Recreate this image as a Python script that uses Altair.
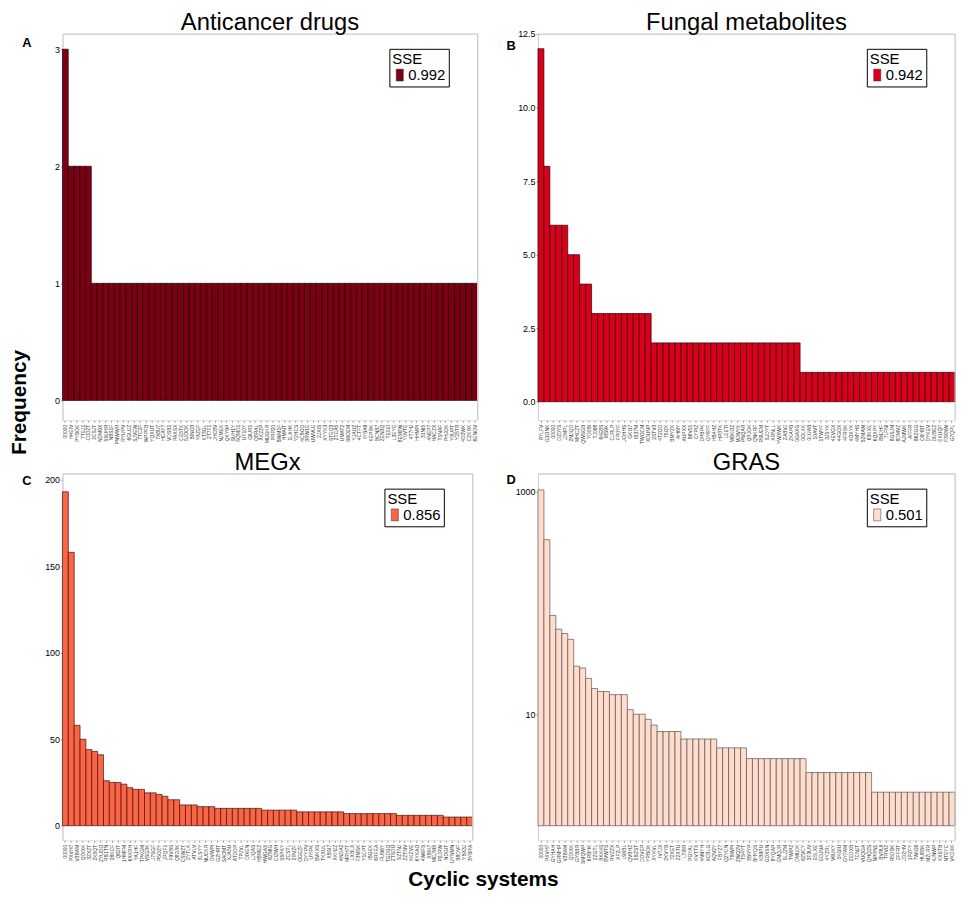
import altair as alt
import pandas as pd

FONT = "Liberation Sans"

panel_titles = ["Anticancer drugs", "Fungal metabolites", "MEGx", "GRAS"]
panel_letters = ["A", "B", "C", "D"]
sse_values = ["0.992", "0.942", "0.856", "0.501"]
bar_colors = ["#7B0014", "#D9001B", "#FC6446", "#FFDCCB"]
bar_strokes = ["#1a0003", "#2a0004", "#3a100a", "#555050"]

codes_a = ["00000", "H4EIV", "PYBOK", "7TEJ1", "C0D2T", "2CSJT", "NDM9X", "5SUHR", "N8S1F", "PNWWR",
           "RYUPV", "6GUJZ", "SJVEW", "7TC2F", "WPPFB", "YQXUT", "7X8U7", "HCAY7", "VDSB1", "PAXSX",
           "CE5TK", "5JOOK", "BINO3", "YAZEF", "KT3GL", "2T7F1", "JHC8V", "NJMEK", "QKY9P", "SUH1Y",
           "5QMD1", "UF10Y", "GIUR1", "Q8RAL", "XK2ZP", "MUGKR", "PRP20", "BWM1F", "HMAIT", "1LAHK",
           "Y2HCS", "4CBOD", "3RW1E", "UWVUJ", "2JXIS", "XYYK3", "STEQ3", "2TCA5", "UMAT2", "S9OEM",
           "YJAUZ", "4CTFT", "IYBA9", "KEPRK", "BCNB7", "ZEN3Q", "TE0EI", "L3EYE", "8EM0W", "Y0VTE",
           "4T7HJ", "HHMPI", "31NI5", "4NEP7", "HACZX", "T1NAF", "PHJOK", "Y0UPT", "Y25TR", "4D2WK",
           "CZKRK", "6ENOV"]
freq_a = [3, 2, 2, 2, 2, 1, 1, 1, 1, 1,
          1, 1, 1, 1, 1, 1, 1, 1, 1, 1,
          1, 1, 1, 1, 1, 1, 1, 1, 1, 1,
          1, 1, 1, 1, 1, 1, 1, 1, 1, 1,
          1, 1, 1, 1, 1, 1, 1, 1, 1, 1,
          1, 1, 1, 1, 1, 1, 1, 1, 1, 1,
          1, 1, 1, 1, 1, 1, 1, 1, 1, 1,
          1, 1]

codes_b = ["RYLFV", "G1ONK", "00000", "DZ0YS", "JJMPL", "2MJQD", "MHCZT", "QWSGB", "YD0BI", "TJ098",
           "64E8S", "I8S9K", "CJRLP", "FP0YF", "JOHHS", "GKI17", "IB37M", "TWOCM", "XDUNP", "2STV3",
           "4T2OD", "75IZK", "BMYZK", "AHI9Y", "AUPXX", "B6V01", "CYPIZ", "DPBPK", "GY6YF", "HB4HZ",
           "HP3TK", "LEETI", "MBKOZ", "MJWYK", "PNQAR", "QPJOK", "QNKRF", "RSUEM", "SJDYT", "XRNLL",
           "YWXWK", "ZABVJ", "ZKAPB", "0GAXG", "0OLKK", "0LUAB", "10AVT", "1TWYF", "3JSYK", "4EVGX",
           "44GOX", "4FRSK", "4OXYK", "4MYHS", "52MAW", "63KXE", "6QXPY", "8MJHF", "7LFNI", "8GSJM",
           "8DMVZ", "AJMWK", "AFFIR", "B6ZGG", "C6HBT", "DYKEV", "DUBEZ", "EKUQF", "F3XNW", "G7QPL"]
freq_b = [12, 8, 6, 6, 6, 5, 5, 4, 4, 3,
          3, 3, 3, 3, 3, 3, 3, 3, 3, 2,
          2, 2, 2, 2, 2, 2, 2, 2, 2, 2,
          2, 2, 2, 2, 2, 2, 2, 2, 2, 2,
          2, 2, 2, 2, 1, 1, 1, 1, 1, 1,
          1, 1, 1, 1, 1, 1, 1, 1, 1, 1,
          1, 1, 1, 1, 1, 1, 1, 1, 1, 1]

codes_c = ["00000", "PXVH7", "V3BAM", "QDIXK", "3ZXZT", "2K5QT", "ZYUDO", "RB1TN", "28KCF", "Q62IT",
           "1HMFM", "6XKRH", "YA1HF", "TPKGM", "VSG3K", "J7SGF", "P5OZY", "JPQF1", "F9VBS", "Q8D3K",
           "CSWZT", "2YTLK", "ATVLV", "3LSYY", "NUCKR", "DVWPI", "GZHRT", "SAOMT", "XJA5U", "ATDDP",
           "TPJVL", "DIXEN", "LJQAS", "HBMEZ", "HWGAX", "6ZMIG", "CIZWH", "S5PKY", "ZCSTL", "2RVZF",
           "OGEZF", "DYYPV", "UYIPK", "BVKXS", "TKXUL", "XBSI7", "XKHJZ", "ANDA2", "MRH7T", "LXBLX",
           "F3MSK", "Y1CPT", "IBGEK", "6RFEA", "FUB6Y", "TGDSQ", "ZTSDU", "SZTNJ", "ZZTNV", "KKZVE",
           "6YKAO", "4W6FS", "XBIK7", "MCJMX", "P2JRW", "NDGIT", "UYNMN", "B8DVF", "YBX3J", "3YBRA"]
freq_c = [193, 158, 58, 50, 44, 43, 41, 26, 25, 25,
          24, 22, 21, 21, 19, 19, 18, 17, 15, 15,
          12, 12, 12, 11, 11, 11, 10, 10, 10, 10,
          10, 10, 10, 10, 9, 9, 9, 9, 9, 9,
          8, 8, 8, 8, 8, 8, 8, 8, 7, 7,
          7, 7, 7, 7, 7, 7, 7, 6, 6, 6,
          6, 6, 6, 6, 6, 5, 5, 5, 5, 5]

codes_d = ["00000", "PXVH7", "GYHAH", "GRMHP", "V3BAM", "QDIXK", "GYBBR", "SMQWP", "6RBHK", "2ZGTL",
           "BKK4S", "8VWTS", "RVZZX", "XF2LP", "L9XBL", "QVBHZ", "5BZST", "DDVEP", "YPBOK", "XYKVL",
           "IV7JX", "2KVYB", "72XET", "Z2XTU", "LTI8R", "PGYAL", "KVTTX", "4NNYH", "XCBLG", "AQV2Y",
           "FBYZ7", "QZYCN", "7BWPI", "ZWQ2V", "TS4YT", "3BRYP", "BHYQS", "KB9PU", "GDXSN", "8YQAP",
           "EMQJR", "SLJZM", "TWIPZ", "DMUJK", "6ZVCY", "3F3UV", "E5LXE", "EOJNA", "4YZRL", "V6UKY",
           "1KGIU", "GYFAM", "ZEDXB", "7CNJT", "VUQGA", "QHQZS", "NPRN1", "BVRUI", "TRVIZ", "R5DBK",
           "2FFRT", "JDZHV", "1PZFY", "7WIG6", "HU8BK", "MZLRR", "4JNWP", "KXSTB", "NTEYC", "VKDXK"]
freq_d = [1030, 368, 77, 58, 53, 47, 27, 26, 21, 17,
          16, 16, 15, 15, 15, 11, 10, 10, 9, 8,
          7, 7, 7, 7, 6, 6, 6, 6, 6, 6,
          5, 5, 5, 5, 5, 4, 4, 4, 4, 4,
          4, 4, 4, 4, 4, 3, 3, 3, 3, 3,
          3, 3, 3, 3, 3, 3, 2, 2, 2, 2,
          2, 2, 2, 2, 2, 2, 2, 2, 2, 2]

assert len(codes_a) == len(freq_a)
assert len(codes_b) == len(freq_b)
assert len(codes_c) == len(freq_c)
assert len(codes_d) == len(freq_d)

one = pd.DataFrame({"k": [0]})


def text_layer(txt, tx, ty, size, weight="normal", angle=0, baseline="middle"):
    return alt.Chart(one).mark_text(text=txt, font=FONT, fontSize=size, fontWeight=weight,
                                    align="center", baseline=baseline, angle=angle,
                                    color="black").encode(x=alt.value(tx), y=alt.value(ty))


def panel(codes, freqs, i, w, h, ydom, yticks, yfmt, log=False, letter_xy=(-36, 9), extras=()):
    df = pd.DataFrame({"code": codes, "freq": freqs, "sse": [sse_values[i]] * len(codes)})
    if log:
        yscale = alt.Scale(type="log", domain=ydom, nice=False)
        base = 1
    else:
        yscale = alt.Scale(domain=ydom, nice=False, zero=False)
        base = 0
    bars = alt.Chart(df).mark_bar(stroke=bar_strokes[i], strokeWidth=0.8, strokeOpacity=0.85).encode(
        x=alt.X("code:N", sort=None,
                scale=alt.Scale(paddingInner=0, paddingOuter=0),
                axis=alt.Axis(title=None, labelAngle=270, labelFont=FONT, labelFontSize=5,
                              labelColor="#333333", tickSize=2, tickColor="#999999",
                              domain=False, labelOverlap=False, labelPadding=2)),
        y=alt.Y("freq:Q", scale=yscale,
                axis=alt.Axis(title=None, values=yticks, format=yfmt, labelFont=FONT,
                              labelFontSize=9, labelColor="black", tickSize=2,
                              tickColor="#999999", domainColor="#cccccc", grid=False,
                              labelPadding=1)),
        y2=alt.datum(base),
        color=alt.Color("sse:N", scale=alt.Scale(range=[bar_colors[i]]),
                        legend=alt.Legend(title="SSE", orient="none", legendX=w - 89, legendY=15,
                                          direction="vertical", strokeColor="black",
                                          fillColor="white", padding=3, cornerRadius=0,
                                          titleFont=FONT, titleFontSize=15,
                                          titleFontWeight="normal", titleColor="black",
                                          titlePadding=1, labelFont=FONT, labelFontSize=15,
                                          labelColor="black", labelOffset=1,
                                          symbolType="M-0.6,-1L0.6,-1L0.6,1L-0.6,1Z",
                                          symbolSize=144, symbolStrokeWidth=0.5,
                                          symbolStrokeColor="#333333",
                                          symbolOpacity=1)),
    )
    top = alt.Chart(one).mark_rule(color="#cccccc", strokeWidth=1).encode(
        x=alt.value(0), x2=alt.value(w), y=alt.value(0))
    right = alt.Chart(one).mark_rule(color="#cccccc", strokeWidth=1).encode(
        x=alt.value(w), y=alt.value(0), y2=alt.value(h))
    layers = [bars, top, right,
              text_layer(panel_letters[i], letter_xy[0], letter_xy[1], 13, "bold"),
              text_layer(panel_titles[i], w / 2, -4, 24, baseline="alphabetic")]
    for (txt, tx, ty, ang) in extras:
        layers.append(text_layer(txt, tx, ty, 21, "bold", ang))
    return alt.layer(*layers).properties(width=w, height=h)


pa = panel(codes_a, freq_a, 0, 419, 390, [-0.17, 3.13], [0, 1, 2, 3], "d",
           letter_xy=(-36, 9), extras=[("Frequency", -43, 372, 270)])
pb = panel(codes_b, freq_b, 1, 421, 390, [-0.63, 12.5], [0, 2.5, 5, 7.5, 10, 12.5], ".1f",
           letter_xy=(-27, 12))
pc = panel(codes_c, freq_c, 2, 414, 370, [-8.45, 203.4], [0, 50, 100, 150, 200], "d",
           letter_xy=(-36, 7), extras=[("Cyclic systems", 425, 410, 0)])
pdd = panel(codes_d, freq_d, 3, 421, 370, [0.74, 1436], [10, 1000], "d", log=True,
            letter_xy=(-27, 6))

chart = alt.concat(pa, pb, pc, pdd, columns=2, bounds="flush",
                   spacing={"row": 54, "column": 61}).resolve_scale(
    x="independent", y="independent", color="independent").properties(
    padding={"left": 0, "top": -2, "right": 0, "bottom": 0}
).configure_view(stroke=None).configure(font=FONT)

chart.save("out.html", embed_options={"renderer": "svg", "actions": False})
